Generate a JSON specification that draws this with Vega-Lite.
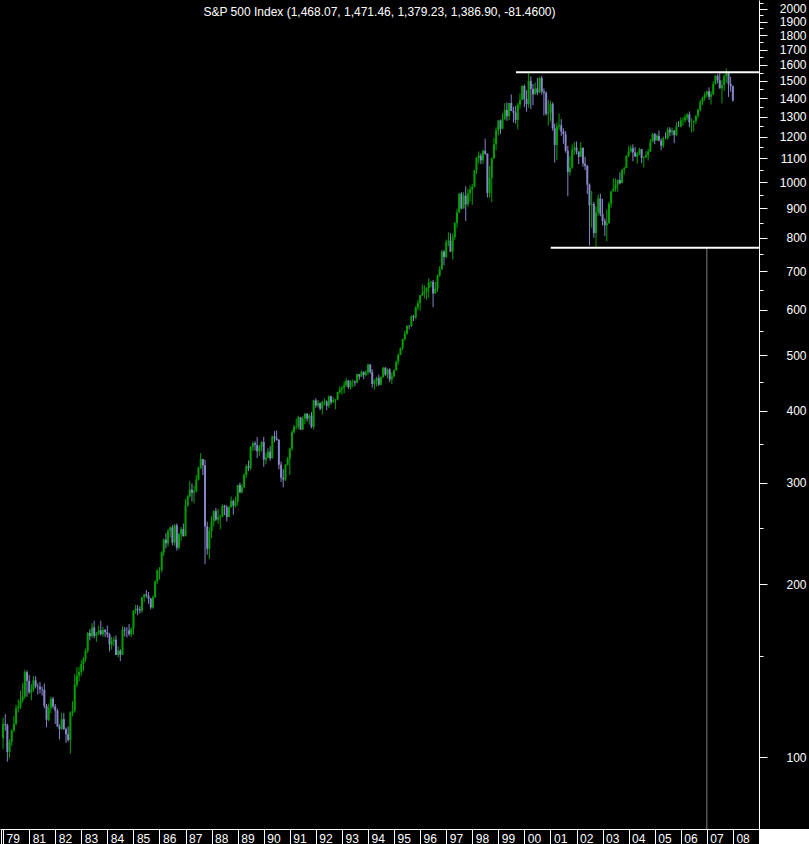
{
"$schema": "https://vega.github.io/schema/vega-lite/v6.json",
"width": 759, "height": 829,
"autosize": "none",
"padding": {"left": 0, "top": 0, "right": 50, "bottom": 15},
"background": "#000000",
"title": {"text": "S&P 500 Index (1,468.07, 1,471.46, 1,379.23, 1,386.90, -81.4600)", "color": "#ffffff", "font": "Liberation Sans", "fontSize": 12, "fontWeight": "normal", "anchor": "middle", "baseline": "alphabetic", "offset": -31},
"config": {"view": {"stroke": null}, "axis": {"grid": false, "labelOverlap": false, "labelFlush": false, "labelBound": false, "labelFont": "Liberation Sans", "labelFontSize": 12, "labelColor": "#ffffff", "tickColor": "#ffffff", "domainColor": "#ffffff", "domainWidth": 1, "tickWidth": 1}},
"datasets": {"bars": [
{"d":"1980-01-01","o":107.94,"h":117.17,"l":103.26,"c":114.16},
{"d":"1980-02-01","o":114.16,"h":118.86,"l":111.13,"c":113.66},
{"d":"1980-03-01","o":113.66,"h":114.34,"l":98.22,"c":102.09},
{"d":"1980-04-01","o":102.09,"h":107.47,"l":99.75,"c":106.29},
{"d":"1980-05-01","o":106.29,"h":111.77,"l":104.70,"c":111.24},
{"d":"1980-06-01","o":111.24,"h":117.95,"l":110.51,"c":114.24},
{"d":"1980-07-01","o":114.24,"h":123.35,"l":113.58,"c":121.67},
{"d":"1980-08-01","o":121.67,"h":126.02,"l":119.51,"c":122.38},
{"d":"1980-09-01","o":122.38,"h":130.40,"l":121.33,"c":125.46},
{"d":"1980-10-01","o":125.46,"h":134.48,"l":124.36,"c":127.47},
{"d":"1980-11-01","o":127.47,"h":141.96,"l":126.29,"c":140.52},
{"d":"1980-12-01","o":140.52,"h":141.53,"l":127.36,"c":135.76},
{"d":"1981-01-01","o":135.76,"h":139.01,"l":128.84,"c":129.55},
{"d":"1981-02-01","o":129.55,"h":133.88,"l":125.60,"c":131.27},
{"d":"1981-03-01","o":131.27,"h":138.38,"l":129.88,"c":136.00},
{"d":"1981-04-01","o":136.00,"h":138.12,"l":131.67,"c":132.81},
{"d":"1981-05-01","o":132.81,"h":134.31,"l":128.52,"c":132.59},
{"d":"1981-06-01","o":132.59,"h":135.16,"l":128.99,"c":131.21},
{"d":"1981-07-01","o":131.21,"h":132.70,"l":127.94,"c":130.92},
{"d":"1981-08-01","o":130.92,"h":134.28,"l":121.61,"c":122.79},
{"d":"1981-09-01","o":122.79,"h":123.77,"l":112.77,"c":116.18},
{"d":"1981-10-01","o":116.18,"h":123.94,"l":115.37,"c":121.89},
{"d":"1981-11-01","o":121.89,"h":127.31,"l":119.26,"c":126.35},
{"d":"1981-12-01","o":126.35,"h":127.32,"l":121.36,"c":122.55},
{"d":"1982-01-01","o":122.55,"h":123.72,"l":114.15,"c":120.40},
{"d":"1982-02-01","o":120.40,"h":121.38,"l":112.94,"c":113.11},
{"d":"1982-03-01","o":113.11,"h":114.07,"l":107.34,"c":111.96},
{"d":"1982-04-01","o":111.96,"h":119.33,"l":111.53,"c":116.44},
{"d":"1982-05-01","o":116.44,"h":119.26,"l":111.52,"c":111.88},
{"d":"1982-06-01","o":111.88,"h":112.60,"l":105.85,"c":109.61},
{"d":"1982-07-01","o":109.61,"h":113.08,"l":106.37,"c":107.09},
{"d":"1982-08-01","o":107.09,"h":120.07,"l":101.44,"c":119.51},
{"d":"1982-09-01","o":119.51,"h":125.07,"l":117.73,"c":120.42},
{"d":"1982-10-01","o":120.42,"h":139.37,"l":119.47,"c":133.71},
{"d":"1982-11-01","o":133.71,"h":143.37,"l":132.27,"c":138.54},
{"d":"1982-12-01","o":138.54,"h":143.52,"l":135.44,"c":140.64},
{"d":"1983-01-01","o":140.64,"h":147.35,"l":138.62,"c":145.30},
{"d":"1983-02-01","o":145.30,"h":149.35,"l":141.30,"c":148.06},
{"d":"1983-03-01","o":148.06,"h":154.39,"l":146.49,"c":152.96},
{"d":"1983-04-01","o":152.96,"h":165.07,"l":151.70,"c":164.42},
{"d":"1983-05-01","o":164.42,"h":167.12,"l":159.63,"c":162.39},
{"d":"1983-06-01","o":162.39,"h":170.99,"l":160.97,"c":168.11},
{"d":"1983-07-01","o":168.11,"h":172.65,"l":160.99,"c":162.56},
{"d":"1983-08-01","o":162.56,"h":165.00,"l":158.65,"c":164.40},
{"d":"1983-09-01","o":164.40,"h":169.38,"l":163.01,"c":166.07},
{"d":"1983-10-01","o":166.07,"h":172.65,"l":162.76,"c":163.55},
{"d":"1983-11-01","o":163.55,"h":168.42,"l":161.84,"c":166.40},
{"d":"1983-12-01","o":166.40,"h":167.14,"l":161.70,"c":164.93},
{"d":"1984-01-01","o":164.93,"h":169.45,"l":161.38,"c":163.41},
{"d":"1984-02-01","o":163.41,"h":164.34,"l":152.63,"c":157.06},
{"d":"1984-03-01","o":157.06,"h":161.78,"l":153.81,"c":159.18},
{"d":"1984-04-01","o":159.18,"h":162.07,"l":155.94,"c":160.05},
{"d":"1984-05-01","o":160.05,"h":162.69,"l":150.42,"c":150.55},
{"d":"1984-06-01","o":150.55,"h":155.81,"l":148.97,"c":153.18},
{"d":"1984-07-01","o":153.18,"h":154.08,"l":146.89,"c":150.66},
{"d":"1984-08-01","o":150.66,"h":168.95,"l":150.63,"c":166.68},
{"d":"1984-09-01","o":166.68,"h":168.40,"l":162.13,"c":166.10},
{"d":"1984-10-01","o":166.10,"h":168.29,"l":161.47,"c":166.09},
{"d":"1984-11-01","o":166.09,"h":170.41,"l":162.47,"c":163.58},
{"d":"1984-12-01","o":163.58,"h":168.11,"l":161.58,"c":167.24},
{"d":"1985-01-01","o":167.24,"h":180.27,"l":163.36,"c":179.63},
{"d":"1985-02-01","o":179.63,"h":183.95,"l":177.46,"c":181.18},
{"d":"1985-03-01","o":181.18,"h":183.89,"l":176.53,"c":180.66},
{"d":"1985-04-01","o":180.66,"h":182.95,"l":177.75,"c":179.83},
{"d":"1985-05-01","o":179.83,"h":190.05,"l":178.35,"c":189.55},
{"d":"1985-06-01","o":189.55,"h":192.30,"l":185.98,"c":191.85},
{"d":"1985-07-01","o":191.85,"h":195.13,"l":189.32,"c":190.92},
{"d":"1985-08-01","o":190.92,"h":193.73,"l":184.77,"c":188.63},
{"d":"1985-09-01","o":188.63,"h":189.32,"l":180.59,"c":182.08},
{"d":"1985-10-01","o":182.08,"h":191.08,"l":181.16,"c":189.82},
{"d":"1985-11-01","o":189.82,"h":202.99,"l":189.05,"c":202.17},
{"d":"1985-12-01","o":202.17,"h":212.02,"l":200.05,"c":211.28},
{"d":"1986-01-01","o":211.28,"h":213.96,"l":203.49,"c":211.78},
{"d":"1986-02-01","o":211.78,"h":227.92,"l":209.45,"c":226.92},
{"d":"1986-03-01","o":226.92,"h":240.08,"l":223.63,"c":238.90},
{"d":"1986-04-01","o":238.90,"h":245.25,"l":230.61,"c":235.52},
{"d":"1986-05-01","o":235.52,"h":249.24,"l":232.46,"c":247.35},
{"d":"1986-06-01","o":247.35,"h":251.79,"l":240.86,"c":250.84},
{"d":"1986-07-01","o":250.84,"h":253.20,"l":233.51,"c":236.12},
{"d":"1986-08-01","o":236.12,"h":254.26,"l":233.24,"c":252.93},
{"d":"1986-09-01","o":252.93,"h":254.94,"l":228.74,"c":231.32},
{"d":"1986-10-01","o":231.32,"h":245.43,"l":229.58,"c":243.98},
{"d":"1986-11-01","o":243.98,"h":251.33,"l":237.77,"c":249.22},
{"d":"1986-12-01","o":249.22,"h":254.87,"l":241.94,"c":242.17},
{"d":"1987-01-01","o":242.17,"h":280.96,"l":242.17,"c":274.08},
{"d":"1987-02-01","o":274.08,"h":285.49,"l":272.56,"c":284.20},
{"d":"1987-03-01","o":284.20,"h":301.95,"l":282.86,"c":291.70},
{"d":"1987-04-01","o":291.70,"h":299.11,"l":278.21,"c":288.36},
{"d":"1987-05-01","o":288.36,"h":296.61,"l":276.22,"c":290.10},
{"d":"1987-06-01","o":290.10,"h":309.28,"l":288.66,"c":304.00},
{"d":"1987-07-01","o":304.00,"h":319.76,"l":302.65,"c":318.66},
{"d":"1987-08-01","o":318.66,"h":337.89,"l":316.91,"c":329.80},
{"d":"1987-09-01","o":329.80,"h":330.07,"l":309.45,"c":321.83},
{"d":"1987-10-01","o":321.83,"h":328.94,"l":216.46,"c":251.79},
{"d":"1987-11-01","o":251.79,"h":256.57,"l":224.90,"c":230.30},
{"d":"1987-12-01","o":230.30,"h":251.10,"l":221.24,"c":247.08},
{"d":"1988-01-01","o":247.08,"h":262.62,"l":240.17,"c":257.07},
{"d":"1988-02-01","o":257.07,"h":268.74,"l":251.75,"c":267.82},
{"d":"1988-03-01","o":267.82,"h":271.12,"l":257.28,"c":258.89},
{"d":"1988-04-01","o":258.89,"h":270.20,"l":254.48,"c":261.33},
{"d":"1988-05-01","o":261.33,"h":263.98,"l":248.85,"c":262.16},
{"d":"1988-06-01","o":262.16,"h":275.31,"l":261.21,"c":273.50},
{"d":"1988-07-01","o":273.50,"h":274.75,"l":263.48,"c":272.02},
{"d":"1988-08-01","o":272.02,"h":274.20,"l":256.98,"c":261.52},
{"d":"1988-09-01","o":261.52,"h":273.82,"l":261.35,"c":271.91},
{"d":"1988-10-01","o":271.91,"h":283.95,"l":271.73,"c":278.97},
{"d":"1988-11-01","o":278.97,"h":280.51,"l":263.85,"c":273.70},
{"d":"1988-12-01","o":273.70,"h":283.66,"l":271.81,"c":277.72},
{"d":"1989-01-01","o":277.72,"h":297.47,"l":273.81,"c":297.47},
{"d":"1989-02-01","o":297.47,"h":300.17,"l":287.71,"c":288.86},
{"d":"1989-03-01","o":288.86,"h":298.64,"l":287.13,"c":294.87},
{"d":"1989-04-01","o":294.87,"h":311.83,"l":293.30,"c":309.64},
{"d":"1989-05-01","o":309.64,"h":322.71,"l":305.61,"c":320.52},
{"d":"1989-06-01","o":320.52,"h":328.00,"l":314.24,"c":317.98},
{"d":"1989-07-01","o":317.98,"h":347.17,"l":315.58,"c":346.08},
{"d":"1989-08-01","o":346.08,"h":353.74,"l":340.51,"c":351.45},
{"d":"1989-09-01","o":351.45,"h":354.13,"l":341.33,"c":349.15},
{"d":"1989-10-01","o":349.15,"h":360.44,"l":331.23,"c":340.36},
{"d":"1989-11-01","o":340.36,"h":348.89,"l":334.24,"c":345.99},
{"d":"1989-12-01","o":345.99,"h":354.15,"l":339.95,"c":353.40},
{"d":"1990-01-01","o":353.40,"h":360.59,"l":319.83,"c":329.08},
{"d":"1990-02-01","o":329.08,"h":337.85,"l":322.98,"c":331.89},
{"d":"1990-03-01","o":331.89,"h":344.49,"l":331.08,"c":339.94},
{"d":"1990-04-01","o":339.94,"h":347.30,"l":327.76,"c":330.80},
{"d":"1990-05-01","o":330.80,"h":362.26,"l":330.80,"c":361.23},
{"d":"1990-06-01","o":361.23,"h":368.95,"l":352.88,"c":358.02},
{"d":"1990-07-01","o":358.02,"h":369.78,"l":355.05,"c":356.15},
{"d":"1990-08-01","o":356.15,"h":357.35,"l":316.55,"c":322.56},
{"d":"1990-09-01","o":322.56,"h":326.53,"l":300.97,"c":306.05},
{"d":"1990-10-01","o":306.05,"h":316.69,"l":294.51,"c":304.00},
{"d":"1990-11-01","o":304.00,"h":323.17,"l":302.02,"c":322.22},
{"d":"1990-12-01","o":322.22,"h":332.43,"l":321.53,"c":330.22},
{"d":"1991-01-01","o":330.22,"h":345.56,"l":309.35,"c":343.93},
{"d":"1991-02-01","o":343.93,"h":370.47,"l":340.96,"c":367.07},
{"d":"1991-03-01","o":367.07,"h":378.07,"l":365.09,"c":375.22},
{"d":"1991-04-01","o":375.22,"h":387.90,"l":371.36,"c":375.35},
{"d":"1991-05-01","o":375.35,"h":392.44,"l":372.08,"c":389.83},
{"d":"1991-06-01","o":389.83,"h":390.52,"l":370.87,"c":371.16},
{"d":"1991-07-01","o":371.16,"h":391.66,"l":370.28,"c":387.81},
{"d":"1991-08-01","o":387.81,"h":396.78,"l":379.12,"c":395.43},
{"d":"1991-09-01","o":395.43,"h":396.64,"l":383.31,"c":387.86},
{"d":"1991-10-01","o":387.86,"h":395.34,"l":378.62,"c":392.46},
{"d":"1991-11-01","o":392.46,"h":398.22,"l":373.14,"c":375.22},
{"d":"1991-12-01","o":375.22,"h":418.32,"l":371.16,"c":417.09},
{"d":"1992-01-01","o":417.09,"h":420.77,"l":404.91,"c":408.79},
{"d":"1992-02-01","o":408.79,"h":417.86,"l":405.80,"c":412.70},
{"d":"1992-03-01","o":412.70,"h":413.74,"l":401.07,"c":403.69},
{"d":"1992-04-01","o":403.69,"h":416.28,"l":394.50,"c":414.95},
{"d":"1992-05-01","o":414.95,"h":420.14,"l":409.11,"c":415.35},
{"d":"1992-06-01","o":415.35,"h":417.36,"l":401.27,"c":408.14},
{"d":"1992-07-01","o":408.14,"h":425.43,"l":404.66,"c":424.21},
{"d":"1992-08-01","o":424.21,"h":425.17,"l":410.32,"c":414.03},
{"d":"1992-09-01","o":414.03,"h":422.41,"l":413.43,"c":417.80},
{"d":"1992-10-01","o":417.80,"h":419.37,"l":402.66,"c":418.68},
{"d":"1992-11-01","o":418.68,"h":431.89,"l":416.91,"c":431.35},
{"d":"1992-12-01","o":431.35,"h":441.28,"l":428.58,"c":435.71},
{"d":"1993-01-01","o":435.71,"h":442.04,"l":426.88,"c":438.78},
{"d":"1993-02-01","o":438.78,"h":450.12,"l":429.05,"c":443.38},
{"d":"1993-03-01","o":443.38,"h":456.33,"l":440.12,"c":451.67},
{"d":"1993-04-01","o":451.67,"h":452.56,"l":436.84,"c":440.19},
{"d":"1993-05-01","o":440.19,"h":452.43,"l":435.64,"c":450.19},
{"d":"1993-06-01","o":450.19,"h":453.85,"l":439.63,"c":450.53},
{"d":"1993-07-01","o":450.53,"h":451.84,"l":441.43,"c":448.13},
{"d":"1993-08-01","o":448.13,"h":464.51,"l":446.83,"c":463.56},
{"d":"1993-09-01","o":463.56,"h":463.59,"l":452.96,"c":458.93},
{"d":"1993-10-01","o":458.93,"h":470.34,"l":458.26,"c":467.83},
{"d":"1993-11-01","o":467.83,"h":468.64,"l":454.36,"c":461.79},
{"d":"1993-12-01","o":461.79,"h":470.99,"l":459.26,"c":466.45},
{"d":"1994-01-01","o":466.45,"h":482.85,"l":462.03,"c":481.61},
{"d":"1994-02-01","o":481.61,"h":482.23,"l":464.26,"c":467.14},
{"d":"1994-03-01","o":467.14,"h":472.56,"l":438.92,"c":445.77},
{"d":"1994-04-01","o":445.77,"h":453.94,"l":435.86,"c":450.91},
{"d":"1994-05-01","o":450.91,"h":458.42,"l":441.22,"c":456.50},
{"d":"1994-06-01","o":456.50,"h":462.64,"l":441.89,"c":444.27},
{"d":"1994-07-01","o":444.27,"h":459.28,"l":443.30,"c":458.26},
{"d":"1994-08-01","o":458.26,"h":477.03,"l":456.83,"c":475.49},
{"d":"1994-09-01","o":475.49,"h":476.74,"l":460.15,"c":462.69},
{"d":"1994-10-01","o":462.69,"h":474.14,"l":455.96,"c":472.35},
{"d":"1994-11-01","o":472.35,"h":474.51,"l":448.73,"c":453.69},
{"d":"1994-12-01","o":453.69,"h":466.60,"l":445.47,"c":459.27},
{"d":"1995-01-01","o":459.27,"h":472.88,"l":457.15,"c":470.42},
{"d":"1995-02-01","o":470.42,"h":489.19,"l":469.95,"c":487.39},
{"d":"1995-03-01","o":487.39,"h":503.90,"l":481.96,"c":500.71},
{"d":"1995-04-01","o":500.71,"h":515.29,"l":500.20,"c":514.71},
{"d":"1995-05-01","o":514.71,"h":534.31,"l":509.82,"c":533.40},
{"d":"1995-06-01","o":533.40,"h":551.07,"l":529.58,"c":544.75},
{"d":"1995-07-01","o":544.75,"h":563.84,"l":542.51,"c":562.06},
{"d":"1995-08-01","o":562.06,"h":564.73,"l":554.27,"c":561.88},
{"d":"1995-09-01","o":561.88,"h":586.77,"l":559.70,"c":584.41},
{"d":"1995-10-01","o":584.41,"h":587.85,"l":572.90,"c":581.50},
{"d":"1995-11-01","o":581.50,"h":608.33,"l":577.56,"c":605.37},
{"d":"1995-12-01","o":605.37,"h":622.88,"l":598.80,"c":615.93},
{"d":"1996-01-01","o":615.93,"h":636.18,"l":597.29,"c":636.02},
{"d":"1996-02-01","o":636.02,"h":664.23,"l":633.71,"c":640.43},
{"d":"1996-03-01","o":640.43,"h":661.45,"l":627.63,"c":645.50},
{"d":"1996-04-01","o":645.50,"h":656.68,"l":624.14,"c":654.17},
{"d":"1996-05-01","o":654.17,"h":680.32,"l":630.07,"c":669.12},
{"d":"1996-06-01","o":669.12,"h":673.31,"l":656.41,"c":670.63},
{"d":"1996-07-01","o":670.63,"h":675.88,"l":605.88,"c":639.95},
{"d":"1996-08-01","o":639.95,"h":670.68,"l":639.49,"c":651.99},
{"d":"1996-09-01","o":651.99,"h":690.88,"l":643.97,"c":687.31},
{"d":"1996-10-01","o":687.31,"h":714.10,"l":684.08,"c":705.27},
{"d":"1996-11-01","o":705.27,"h":762.12,"l":703.77,"c":757.02},
{"d":"1996-12-01","o":757.02,"h":761.75,"l":716.69,"c":740.74},
{"d":"1997-01-01","o":740.74,"h":794.67,"l":737.01,"c":786.16},
{"d":"1997-02-01","o":786.16,"h":817.68,"l":773.43,"c":790.82},
{"d":"1997-03-01","o":790.82,"h":814.90,"l":756.13,"c":757.12},
{"d":"1997-04-01","o":757.12,"h":812.93,"l":733.54,"c":801.34},
{"d":"1997-05-01","o":801.34,"h":851.87,"l":793.21,"c":848.28},
{"d":"1997-06-01","o":848.28,"h":898.70,"l":833.09,"c":885.14},
{"d":"1997-07-01","o":885.14,"h":957.73,"l":884.54,"c":954.29},
{"d":"1997-08-01","o":954.29,"h":961.63,"l":896.30,"c":899.47},
{"d":"1997-09-01","o":899.47,"h":960.46,"l":899.47,"c":947.28},
{"d":"1997-10-01","o":947.28,"h":983.12,"l":855.27,"c":914.62},
{"d":"1997-11-01","o":914.62,"h":972.56,"l":905.56,"c":955.40},
{"d":"1997-12-01","o":955.40,"h":986.25,"l":925.46,"c":970.43},
{"d":"1998-01-01","o":970.43,"h":992.65,"l":912.83,"c":980.28},
{"d":"1998-02-01","o":980.28,"h":1050.66,"l":979.63,"c":1049.34},
{"d":"1998-03-01","o":1049.34,"h":1105.65,"l":1032.47,"c":1101.75},
{"d":"1998-04-01","o":1101.75,"h":1130.52,"l":1076.70,"c":1111.75},
{"d":"1998-05-01","o":1111.75,"h":1122.07,"l":1074.39,"c":1090.82},
{"d":"1998-06-01","o":1090.82,"h":1138.69,"l":1074.91,"c":1133.84},
{"d":"1998-07-01","o":1133.84,"h":1190.58,"l":1114.30,"c":1120.67},
{"d":"1998-08-01","o":1120.67,"h":1121.36,"l":939.98,"c":957.28},
{"d":"1998-09-01","o":957.28,"h":1066.11,"l":939.71,"c":1017.01},
{"d":"1998-10-01","o":1017.01,"h":1103.78,"l":923.32,"c":1098.67},
{"d":"1998-11-01","o":1098.67,"h":1192.97,"l":1098.67,"c":1163.63},
{"d":"1998-12-01","o":1163.63,"h":1244.93,"l":1136.89,"c":1229.23},
{"d":"1999-01-01","o":1229.23,"h":1280.37,"l":1205.46,"c":1279.64},
{"d":"1999-02-01","o":1279.64,"h":1283.83,"l":1211.89,"c":1238.33},
{"d":"1999-03-01","o":1238.33,"h":1316.55,"l":1234.60,"c":1286.37},
{"d":"1999-04-01","o":1286.37,"h":1371.56,"l":1282.56,"c":1335.18},
{"d":"1999-05-01","o":1335.18,"h":1375.98,"l":1277.31,"c":1301.84},
{"d":"1999-06-01","o":1301.84,"h":1372.93,"l":1281.41,"c":1372.71},
{"d":"1999-07-01","o":1372.71,"h":1420.33,"l":1328.37,"c":1328.72},
{"d":"1999-08-01","o":1328.72,"h":1352.65,"l":1268.37,"c":1320.41},
{"d":"1999-09-01","o":1320.41,"h":1357.74,"l":1263.33,"c":1282.71},
{"d":"1999-10-01","o":1282.71,"h":1373.17,"l":1233.66,"c":1362.93},
{"d":"1999-11-01","o":1362.93,"h":1427.26,"l":1342.46,"c":1388.91},
{"d":"1999-12-01","o":1388.91,"h":1473.10,"l":1387.38,"c":1469.25},
{"d":"2000-01-01","o":1469.25,"h":1478.00,"l":1350.14,"c":1394.46},
{"d":"2000-02-01","o":1394.46,"h":1444.55,"l":1325.07,"c":1366.42},
{"d":"2000-03-01","o":1366.42,"h":1552.87,"l":1346.62,"c":1498.58},
{"d":"2000-04-01","o":1498.58,"h":1527.19,"l":1339.40,"c":1452.43},
{"d":"2000-05-01","o":1452.43,"h":1481.51,"l":1361.09,"c":1420.60},
{"d":"2000-06-01","o":1420.60,"h":1488.92,"l":1420.60,"c":1454.60},
{"d":"2000-07-01","o":1454.60,"h":1517.32,"l":1416.54,"c":1430.83},
{"d":"2000-08-01","o":1430.83,"h":1525.21,"l":1428.80,"c":1517.68},
{"d":"2000-09-01","o":1517.68,"h":1530.09,"l":1419.44,"c":1436.51},
{"d":"2000-10-01","o":1436.51,"h":1454.82,"l":1305.79,"c":1429.40},
{"d":"2000-11-01","o":1429.40,"h":1438.46,"l":1305.76,"c":1314.95},
{"d":"2000-12-01","o":1314.95,"h":1389.06,"l":1254.07,"c":1320.28},
{"d":"2001-01-01","o":1320.28,"h":1383.37,"l":1274.62,"c":1366.01},
{"d":"2001-02-01","o":1366.01,"h":1376.38,"l":1228.33,"c":1239.94},
{"d":"2001-03-01","o":1239.94,"h":1263.47,"l":1081.19,"c":1160.33},
{"d":"2001-04-01","o":1160.33,"h":1269.30,"l":1091.99,"c":1249.46},
{"d":"2001-05-01","o":1249.46,"h":1315.93,"l":1232.00,"c":1255.82},
{"d":"2001-06-01","o":1255.82,"h":1286.62,"l":1203.03,"c":1224.42},
{"d":"2001-07-01","o":1224.42,"h":1239.78,"l":1165.54,"c":1211.23},
{"d":"2001-08-01","o":1211.23,"h":1226.27,"l":1124.87,"c":1133.58},
{"d":"2001-09-01","o":1133.58,"h":1155.40,"l":944.75,"c":1040.94},
{"d":"2001-10-01","o":1040.94,"h":1110.61,"l":1026.76,"c":1059.78},
{"d":"2001-11-01","o":1059.78,"h":1163.38,"l":1054.31,"c":1139.45},
{"d":"2001-12-01","o":1139.45,"h":1173.62,"l":1114.93,"c":1148.08},
{"d":"2002-01-01","o":1148.08,"h":1176.55,"l":1117.56,"c":1130.20},
{"d":"2002-02-01","o":1130.20,"h":1130.20,"l":1074.36,"c":1106.73},
{"d":"2002-03-01","o":1106.73,"h":1173.94,"l":1106.73,"c":1147.39},
{"d":"2002-04-01","o":1147.39,"h":1147.84,"l":1063.46,"c":1076.92},
{"d":"2002-05-01","o":1076.92,"h":1106.59,"l":1048.96,"c":1067.14},
{"d":"2002-06-01","o":1067.14,"h":1070.74,"l":952.92,"c":989.82},
{"d":"2002-07-01","o":989.82,"h":994.46,"l":775.68,"c":911.62},
{"d":"2002-08-01","o":911.62,"h":965.00,"l":833.44,"c":916.07},
{"d":"2002-09-01","o":916.07,"h":924.02,"l":800.20,"c":815.28},
{"d":"2002-10-01","o":815.28,"h":907.44,"l":768.63,"c":885.76},
{"d":"2002-11-01","o":885.76,"h":951.57,"l":872.57,"c":936.31},
{"d":"2002-12-01","o":936.31,"h":954.28,"l":871.84,"c":879.82},
{"d":"2003-01-01","o":879.82,"h":935.05,"l":840.34,"c":855.70},
{"d":"2003-02-01","o":855.70,"h":864.64,"l":806.29,"c":841.15},
{"d":"2003-03-01","o":841.15,"h":895.90,"l":788.90,"c":848.18},
{"d":"2003-04-01","o":848.18,"h":924.24,"l":847.85,"c":916.92},
{"d":"2003-05-01","o":916.92,"h":965.38,"l":902.83,"c":963.59},
{"d":"2003-06-01","o":963.59,"h":1015.33,"l":963.59,"c":974.50},
{"d":"2003-07-01","o":974.50,"h":1015.41,"l":962.10,"c":990.31},
{"d":"2003-08-01","o":990.31,"h":1011.01,"l":960.84,"c":1008.01},
{"d":"2003-09-01","o":1008.01,"h":1040.29,"l":990.36,"c":995.97},
{"d":"2003-10-01","o":995.97,"h":1053.79,"l":995.97,"c":1050.71},
{"d":"2003-11-01","o":1050.71,"h":1063.65,"l":1031.20,"c":1058.20},
{"d":"2003-12-01","o":1058.20,"h":1112.56,"l":1058.20,"c":1111.92},
{"d":"2004-01-01","o":1111.92,"h":1155.38,"l":1105.08,"c":1131.13},
{"d":"2004-02-01","o":1131.13,"h":1158.98,"l":1124.44,"c":1144.94},
{"d":"2004-03-01","o":1144.94,"h":1163.23,"l":1087.16,"c":1126.21},
{"d":"2004-04-01","o":1126.21,"h":1150.57,"l":1105.93,"c":1107.30},
{"d":"2004-05-01","o":1107.30,"h":1127.74,"l":1076.32,"c":1120.68},
{"d":"2004-06-01","o":1120.68,"h":1146.34,"l":1113.32,"c":1140.84},
{"d":"2004-07-01","o":1140.84,"h":1140.84,"l":1078.78,"c":1101.72},
{"d":"2004-08-01","o":1101.72,"h":1108.96,"l":1060.72,"c":1104.24},
{"d":"2004-09-01","o":1104.24,"h":1131.54,"l":1101.24,"c":1114.58},
{"d":"2004-10-01","o":1114.58,"h":1142.05,"l":1090.19,"c":1130.20},
{"d":"2004-11-01","o":1130.20,"h":1188.46,"l":1127.60,"c":1173.82},
{"d":"2004-12-01","o":1173.82,"h":1217.33,"l":1173.76,"c":1211.92},
{"d":"2005-01-01","o":1211.92,"h":1217.80,"l":1163.75,"c":1181.27},
{"d":"2005-02-01","o":1181.27,"h":1212.44,"l":1180.95,"c":1203.60},
{"d":"2005-03-01","o":1203.60,"h":1229.11,"l":1176.92,"c":1180.59},
{"d":"2005-04-01","o":1180.59,"h":1191.88,"l":1136.15,"c":1156.85},
{"d":"2005-05-01","o":1156.85,"h":1199.56,"l":1146.18,"c":1191.50},
{"d":"2005-06-01","o":1191.50,"h":1219.59,"l":1188.30,"c":1191.33},
{"d":"2005-07-01","o":1191.33,"h":1245.15,"l":1183.55,"c":1234.18},
{"d":"2005-08-01","o":1234.18,"h":1245.86,"l":1201.07,"c":1220.33},
{"d":"2005-09-01","o":1220.33,"h":1243.13,"l":1205.35,"c":1228.81},
{"d":"2005-10-01","o":1228.81,"h":1233.34,"l":1168.20,"c":1207.01},
{"d":"2005-11-01","o":1207.01,"h":1270.64,"l":1201.07,"c":1249.48},
{"d":"2005-12-01","o":1249.48,"h":1275.80,"l":1246.59,"c":1248.29},
{"d":"2006-01-01","o":1248.29,"h":1294.90,"l":1245.74,"c":1280.08},
{"d":"2006-02-01","o":1280.08,"h":1297.57,"l":1253.61,"c":1280.66},
{"d":"2006-03-01","o":1280.66,"h":1310.88,"l":1268.42,"c":1294.87},
{"d":"2006-04-01","o":1294.87,"h":1318.16,"l":1280.74,"c":1310.61},
{"d":"2006-05-01","o":1310.61,"h":1326.70,"l":1245.34,"c":1270.09},
{"d":"2006-06-01","o":1270.09,"h":1290.68,"l":1219.29,"c":1270.20},
{"d":"2006-07-01","o":1270.20,"h":1280.42,"l":1224.54,"c":1276.66},
{"d":"2006-08-01","o":1276.66,"h":1306.74,"l":1261.30,"c":1303.82},
{"d":"2006-09-01","o":1303.82,"h":1340.28,"l":1290.93,"c":1335.85},
{"d":"2006-10-01","o":1335.85,"h":1389.45,"l":1327.10,"c":1377.94},
{"d":"2006-11-01","o":1377.94,"h":1407.89,"l":1360.98,"c":1400.63},
{"d":"2006-12-01","o":1400.63,"h":1431.81,"l":1385.93,"c":1418.30},
{"d":"2007-01-01","o":1418.30,"h":1441.61,"l":1403.97,"c":1438.24},
{"d":"2007-02-01","o":1438.24,"h":1461.57,"l":1389.42,"c":1406.82},
{"d":"2007-03-01","o":1406.82,"h":1438.89,"l":1363.98,"c":1420.86},
{"d":"2007-04-01","o":1420.86,"h":1498.02,"l":1416.37,"c":1482.37},
{"d":"2007-05-01","o":1482.37,"h":1535.56,"l":1476.70,"c":1530.62},
{"d":"2007-06-01","o":1530.62,"h":1540.56,"l":1484.18,"c":1503.35},
{"d":"2007-07-01","o":1503.35,"h":1555.90,"l":1454.25,"c":1455.27},
{"d":"2007-08-01","o":1455.27,"h":1503.89,"l":1370.60,"c":1473.99},
{"d":"2007-09-01","o":1473.99,"h":1538.74,"l":1439.29,"c":1526.75},
{"d":"2007-10-01","o":1526.75,"h":1576.09,"l":1489.56,"c":1549.38},
{"d":"2007-11-01","o":1549.38,"h":1545.79,"l":1406.10,"c":1481.14},
{"d":"2007-12-01","o":1481.14,"h":1523.57,"l":1435.65,"c":1468.36},
{"d":"2008-01-01","o":1468.07,"h":1471.46,"l":1379.23,"c":1386.90}
]},
"layer": [
{"data": {"name": "bars"}, "mark": {"type": "rule", "strokeWidth": 1},
 "encoding": {
  "x": {"field": "d", "type": "temporal", "title": null,
   "scale": {"type": "utc", "padding": 0, "domain": [{"year": 1979, "month": 11, "date": 19, "utc": true}, {"year": 2009, "month": 1, "date": 1, "utc": true}]},
   "axis": {"values": [313027200000,315532800000,347155200000,378691200000,410227200000,441763200000,473385600000,504921600000,536457600000,567993600000,599616000000,631152000000,662688000000,694224000000,725846400000,757382400000,788918400000,820454400000,852076800000,883612800000,915148800000,946684800000,978307200000,1009843200000,1041379200000,1072915200000,1104537600000,1136073600000,1167609600000,1199145600000,1230768000000],
    "tickCount": 200,
    "labelExpr": "utcyear(datum.value) == 1980 ? '79' : (utcyear(datum.value) >= 2009 || utcyear(datum.value) < 1980) ? '' : utcFormat(datum.value, '%y')",
    "tickSize": 15, "labelAlign": "left", "labelBaseline": "alphabetic", "labelPadding": -2, "labelOffset": 3,
    "labelFlush": false, "labelOverlap": false, "labelBound": false, "title": null}},
  "y": {"field": "l", "type": "quantitative", "title": null,
   "scale": {"type": "log", "domain": [75, 2073], "nice": false, "zero": false, "padding": 0},
   "axis": {"orient": "right", "title": null,
    "values": [100,150,200,250,300,350,400,450,500,550,600,650,700,750,800,850,900,950,1000,1050,1100,1150,1200,1250,1300,1350,1400,1450,1500,1550,1600,1650,1700,1750,1800,1850,1900,1950,2000,2050],
    "tickCount": 200,
    "labelExpr": "datum.value % 100 === 0 ? format(datum.value, 'd') : ''",
    "tickSize": {"condition": {"test": "datum.value % 100 === 0", "value": 8}, "value": 4},
    "labelAlign": "right", "labelPadding": 39, "labelOverlap": false, "labelFlush": false, "labelBound": false}},
  "y2": {"field": "h"},
  "color": {"condition": {"test": "datum.c >= datum.o", "value": "#00a000"}, "value": "#8585c8"}
 }},
{"data": {"name": "bars"}, "mark": {"type": "bar", "size": 2},
 "encoding": {
  "x": {"field": "d", "type": "temporal", "title": null},
  "y": {"field": "o", "type": "quantitative", "title": null},
  "y2": {"field": "c"},
  "color": {"condition": {"test": "datum.c >= datum.o", "value": "#00a000"}, "value": "#8585c8"}
 }},
{"data": {"values": [{"d": "2007-01-01", "top": 768.63, "bottom": 75}]},
 "mark": {"type": "rule", "color": "#808080", "strokeWidth": 1},
 "encoding": {
  "x": {"field": "d", "type": "temporal", "title": null},
  "y": {"field": "top", "type": "quantitative", "title": null},
  "y2": {"field": "bottom"}
 }},
{"data": {"values": [{"from": "1999-09-05", "to": "2009-01-01", "level": 1552.87}, {"from": "2001-01-05", "to": "2009-01-01", "level": 768.63}]},
 "mark": {"type": "rule", "color": "#ffffff", "strokeWidth": 2},
 "encoding": {
  "x": {"field": "from", "type": "temporal", "title": null},
  "x2": {"field": "to"},
  "y": {"field": "level", "type": "quantitative", "title": null}
 }},
{"data": {"values": [{}]},
 "mark": {"type": "rect", "color": "#ffffff"},
 "encoding": {
  "x": {"datum": {"year": 2009, "month": 1, "date": 1, "utc": true}, "type": "temporal", "title": null},
  "x2": {"datum": {"year": 2011, "month": 1, "date": 1, "utc": true}},
  "y": {"datum": 75, "type": "quantitative", "title": null},
  "y2": {"datum": 60}
 }}
]
}
